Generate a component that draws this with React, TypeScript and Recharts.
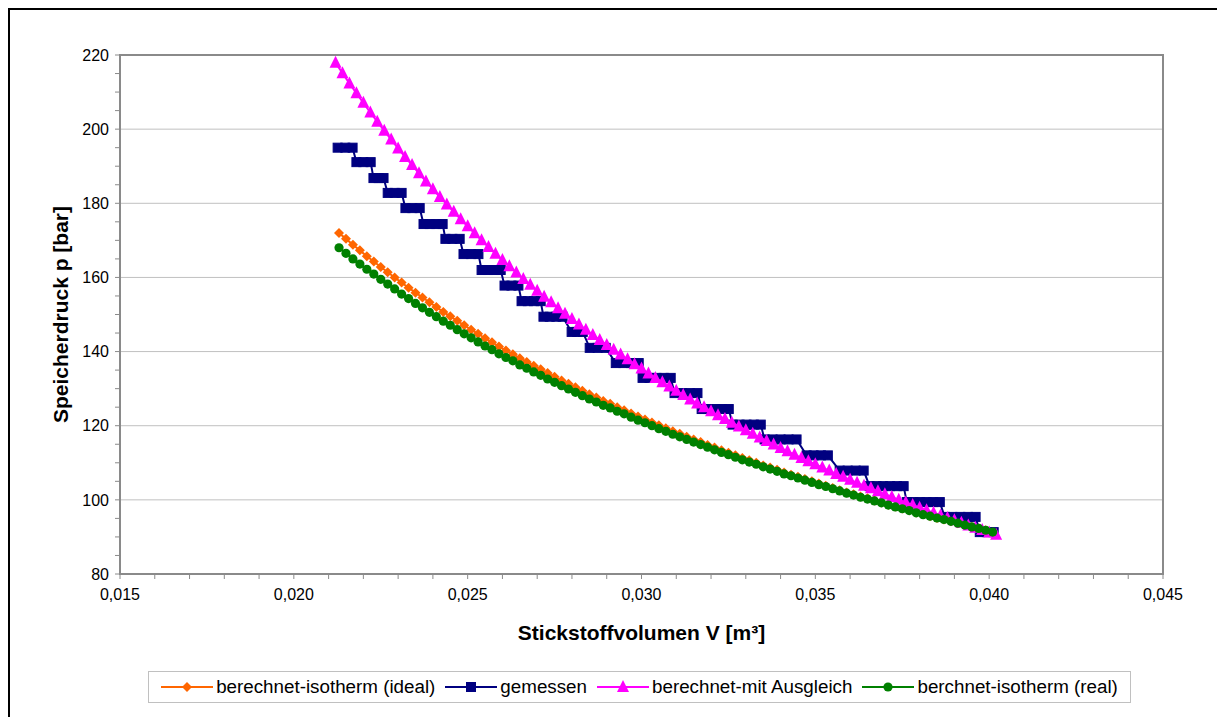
import React from 'react';
import { ScatterChart, Scatter, XAxis, YAxis, CartesianGrid, ReferenceArea } from 'recharts';

// Speicherdruck über Stickstoffvolumen – Messung vs. Berechnung
const volIso = [
  0.0213, 0.0215, 0.0217, 0.0219, 0.0221, 0.0223, 0.0225, 0.0227, 0.0229, 0.0231,
  0.0233, 0.0235, 0.0237, 0.0239, 0.0241, 0.0243, 0.0245, 0.0247, 0.0249, 0.0251,
  0.0253, 0.0255, 0.0257, 0.0259, 0.0261, 0.0263, 0.0265, 0.0267, 0.0269, 0.0271,
  0.0273, 0.0275, 0.0277, 0.0279, 0.0281, 0.0283, 0.0285, 0.0287, 0.0289, 0.0291,
  0.0293, 0.0295, 0.0297, 0.0299, 0.0301, 0.0303, 0.0305, 0.0307, 0.0309, 0.0311,
  0.0313, 0.0315, 0.0317, 0.0319, 0.0321, 0.0323, 0.0325, 0.0327, 0.0329, 0.0331,
  0.0333, 0.0335, 0.0337, 0.0339, 0.0341, 0.0343, 0.0345, 0.0347, 0.0349, 0.0351,
  0.0353, 0.0355, 0.0357, 0.0359, 0.0361, 0.0363, 0.0365, 0.0367, 0.0369, 0.0371,
  0.0373, 0.0375, 0.0377, 0.0379, 0.0381, 0.0383, 0.0385, 0.0387, 0.0389, 0.0391,
  0.0393, 0.0395, 0.0397, 0.0399, 0.0401,
];

const pIdeal = [
  172.0, 170.4, 168.8, 167.3, 165.7, 164.3, 162.8, 161.4, 160.0, 158.6,
  157.2, 155.9, 154.6, 153.3, 152.0, 150.7, 149.5, 148.3, 147.1, 145.9,
  144.8, 143.6, 142.5, 141.4, 140.3, 139.3, 138.2, 137.2, 136.2, 135.2,
  134.2, 133.2, 132.2, 131.3, 130.4, 129.4, 128.5, 127.6, 126.7, 125.9,
  125.0, 124.2, 123.3, 122.5, 121.7, 120.9, 120.1, 119.3, 118.5, 117.8,
  117.0, 116.3, 115.6, 114.8, 114.1, 113.4, 112.7, 112.0, 111.3, 110.7,
  110.0, 109.3, 108.7, 108.1, 107.4, 106.8, 106.2, 105.6, 105.0, 104.4,
  103.8, 103.2, 102.6, 102.0, 101.5, 100.9, 100.4, 99.8, 99.3, 98.7,
  98.2, 97.7, 97.2, 96.6, 96.1, 95.6, 95.1, 94.7, 94.2, 93.7,
  93.2, 92.7, 92.3, 91.8, 91.3,
];

const pReal = [
  168.0, 166.5, 165.0, 163.6, 162.2, 160.9, 159.5, 158.2, 156.9, 155.5,
  154.3, 153.0, 151.8, 150.6, 149.4, 148.2, 147.1, 145.9, 144.8, 143.7,
  142.6, 141.5, 140.5, 139.4, 138.4, 137.5, 136.4, 135.5, 134.5, 133.6,
  132.6, 131.7, 130.8, 129.9, 129.0, 128.1, 127.2, 126.4, 125.5, 124.8,
  123.9, 123.2, 122.3, 121.5, 120.8, 120.0, 119.2, 118.5, 117.7, 117.0,
  116.3, 115.6, 114.9, 114.2, 113.5, 112.8, 112.2, 111.5, 110.8, 110.2,
  109.6, 108.9, 108.3, 107.7, 107.0, 106.5, 105.9, 105.3, 104.7, 104.1,
  103.6, 103.0, 102.4, 101.8, 101.3, 100.7, 100.2, 99.7, 99.2, 98.6,
  98.1, 97.6, 97.1, 96.5, 96.0, 95.6, 95.1, 94.7, 94.2, 93.7,
  93.2, 92.7, 92.3, 91.8, 91.3,
];

const volAusgleich = [
  0.0212, 0.0214, 0.0216, 0.0218, 0.0220, 0.0222, 0.0224, 0.0226, 0.0228, 0.0230,
  0.0232, 0.0234, 0.0236, 0.0238, 0.0240, 0.0242, 0.0244, 0.0246, 0.0248, 0.0250,
  0.0252, 0.0254, 0.0256, 0.0258, 0.0260, 0.0262, 0.0264, 0.0266, 0.0268, 0.0270,
  0.0272, 0.0274, 0.0276, 0.0278, 0.0280, 0.0282, 0.0284, 0.0286, 0.0288, 0.0290,
  0.0292, 0.0294, 0.0296, 0.0298, 0.0300, 0.0302, 0.0304, 0.0306, 0.0308, 0.0310,
  0.0312, 0.0314, 0.0316, 0.0318, 0.0320, 0.0322, 0.0324, 0.0326, 0.0328, 0.0330,
  0.0332, 0.0334, 0.0336, 0.0338, 0.0340, 0.0342, 0.0344, 0.0346, 0.0348, 0.0350,
  0.0352, 0.0354, 0.0356, 0.0358, 0.0360, 0.0362, 0.0364, 0.0366, 0.0368, 0.0370,
  0.0372, 0.0374, 0.0376, 0.0378, 0.0380, 0.0382, 0.0384, 0.0386, 0.0388, 0.0390,
  0.0392, 0.0394, 0.0396, 0.0398, 0.0400, 0.0402,
];

const pAusgleich = [
  217.9, 215.1, 212.3, 209.7, 207.1, 204.5, 202.0, 199.6, 197.2, 194.8,
  192.5, 190.3, 188.1, 185.9, 183.8, 181.7, 179.7, 177.7, 175.7, 173.8,
  171.9, 170.0, 168.2, 166.4, 164.7, 163.0, 161.3, 159.6, 158.0, 156.4,
  154.8, 153.3, 151.7, 150.2, 148.8, 147.3, 145.9, 144.5, 143.1, 141.8,
  140.5, 139.2, 137.9, 136.6, 135.4, 134.1, 132.9, 131.7, 130.6, 129.4,
  128.3, 127.1, 126.0, 125.0, 123.9, 122.8, 121.8, 120.8, 119.8, 118.8,
  117.8, 116.8, 115.9, 114.9, 114.0, 113.1, 112.2, 111.3, 110.4, 109.6,
  108.7, 107.9, 107.0, 106.2, 105.4, 104.6, 103.8, 103.1, 102.3, 101.5,
  100.8, 100.0, 99.3, 98.6, 97.9, 97.2, 96.5, 95.8, 95.1, 94.5,
  93.8, 93.1, 92.5, 91.9, 91.2, 90.6,
];

// gemessen: Druckstufen und die Volumina, die auf jeder Stufe liegen
const stufenDruck = [
  195.0, 191.1, 186.8, 182.8, 178.7, 174.4, 170.4, 166.3, 162.0, 157.8,
  153.6, 149.4, 145.3, 141.0, 136.9, 132.9, 128.8, 124.5, 120.3, 116.3,
  112.0, 107.9, 103.7, 99.4, 95.4, 91.3,
];

const stufenVolumen = [
  [0.02126, 0.02148, 0.02169],
  [0.0218, 0.022, 0.02221],
  [0.02229, 0.02244, 0.02258],
  [0.0227, 0.0229, 0.0231],
  [0.02321, 0.02341, 0.02362],
  [0.02373, 0.02391, 0.0241, 0.02428],
  [0.02436, 0.02456, 0.02477],
  [0.02488, 0.0251, 0.02531],
  [0.0254, 0.02558, 0.02576, 0.02595],
  [0.02606, 0.02626, 0.02646],
  [0.02655, 0.02673, 0.02691, 0.0271],
  [0.02718, 0.02736, 0.02755, 0.02773],
  [0.02799, 0.02815, 0.02831],
  [0.02851, 0.02874, 0.02897],
  [0.02926, 0.02948, 0.0297, 0.02992],
  [0.03003, 0.03023, 0.03043, 0.03064, 0.03084],
  [0.03095, 0.03117, 0.03139, 0.03161],
  [0.03173, 0.03192, 0.03212, 0.03231, 0.03251],
  [0.03262, 0.03282, 0.03302, 0.03323, 0.03343],
  [0.03354, 0.03377, 0.034, 0.03423, 0.03446],
  [0.03475, 0.03495, 0.03516, 0.03536],
  [0.0357, 0.03593, 0.03616, 0.03639],
  [0.03656, 0.03676, 0.03695, 0.03715, 0.03735, 0.03754],
  [0.03763, 0.03782, 0.03801, 0.0382, 0.03839, 0.03858],
  [0.03872, 0.03894, 0.03917, 0.03939, 0.03961],
  [0.03973, 0.03993, 0.04013],
];

const xTicks = [
  0.015, 0.016, 0.017, 0.018, 0.019, 0.02, 0.021, 0.022, 0.023, 0.024,
  0.025, 0.026, 0.027, 0.028, 0.029, 0.03, 0.031, 0.032, 0.033, 0.034,
  0.035, 0.036, 0.037, 0.038, 0.039, 0.04, 0.041, 0.042, 0.043, 0.044, 0.045,
];
const xLabelled = [0.015, 0.02, 0.025, 0.03, 0.035, 0.04, 0.045];

const yTicks = [
  80, 85, 90, 95, 100, 105, 110, 115, 120, 125, 130, 135, 140, 145, 150,
  155, 160, 165, 170, 175, 180, 185, 190, 195, 200, 205, 210, 215, 220,
];
const yLabelled = [80, 100, 120, 140, 160, 180, 200, 220];
const yGrid = [100, 120, 140, 160, 180, 200];

const seriesNames = [
  'berechnet-isotherm (ideal)',
  'gemessen',
  'berechnet-mit Ausgleich',
  'berchnet-isotherm (real)',
];

const FONT = '"Liberation Sans", Arial, sans-serif';
const ORANGE = '#FF6600';
const NAVY = '#000080';
const MAGENTA = '#FF00FF';
const GREEN = '#008000';
const AXIS_GRAY = '#8a8a8a';

const idealData = volIso.map((v, i) => ({ v, p: pIdeal[i] }));
const realData = volIso.map((v, i) => ({ v, p: pReal[i] }));
const ausgleichData = volAusgleich.map((v, i) => ({ v, p: pAusgleich[i] }));
const gemessenData = stufenVolumen.flatMap((vols, i) => vols.map((v) => ({ v, p: stufenDruck[i] })));

const isLabelled = (list: number[], value: number) => list.some((t) => Math.abs(t - value) < 1e-9);

// marker shapes
const Diamond = ({ cx, cy, color }: any) => (
  <polygon points={`${cx},${cy - 5} ${cx + 5},${cy} ${cx},${cy + 5} ${cx - 5},${cy}`} fill={color} />
);
const Square = ({ cx, cy, color }: any) => (
  <rect x={cx - 4.5} y={cy - 4.5} width={9} height={9} fill={color} stroke={color} strokeWidth={1} />
);
const Triangle = ({ cx, cy, color }: any) => (
  <polygon points={`${cx},${cy - 7} ${cx + 6},${cy + 5} ${cx - 6},${cy + 5}`} fill={color} />
);
const Dot = ({ cx, cy, color }: any) => <circle cx={cx} cy={cy} r={4.6} fill={color} />;

const legendItems = [
  { name: seriesNames[0], color: ORANGE, Marker: Diamond },
  { name: seriesNames[1], color: NAVY, Marker: Square },
  { name: seriesNames[2], color: MAGENTA, Marker: Triangle },
  { name: seriesNames[3], color: GREEN, Marker: Dot },
];

const XTitle = ({ viewBox }: any) => (
  <text
    x={viewBox.x + viewBox.width / 2}
    y={viewBox.y + 66}
    textAnchor="middle"
    fontFamily={FONT}
    fontWeight="bold"
    fontSize={21}
    fill="#000"
  >
    Stickstoffvolumen V [m³]
  </text>
);

const YTitle = ({ viewBox }: any) => {
  const x = viewBox.x + 28;
  const y = viewBox.y + viewBox.height / 2;
  return (
    <text
      x={x}
      y={y}
      transform={`rotate(-90, ${x}, ${y})`}
      textAnchor="middle"
      fontFamily={FONT}
      fontWeight="bold"
      fontSize={21}
      fill="#000"
    >
      Speicherdruck p [bar]
    </text>
  );
};

const tickStyle = { fontSize: 16, fill: '#000', fontFamily: FONT };

export default function App() {
  return (
    <div style={{ position: 'absolute', left: 0, top: 0, width: 1217, height: 717, overflow: 'hidden', background: '#fff' }}>
      <div
        style={{
          position: 'absolute',
          left: 8,
          top: 8,
          width: 1240,
          height: 740,
          border: '2px solid #000',
          boxSizing: 'border-box',
        }}
      />
      <div style={{ position: 'absolute', left: 8, top: 8 }}>
        <ScatterChart width={1209} height={709} margin={{ top: 47, right: 54, bottom: 103, left: 32 }}>
          <CartesianGrid vertical={false} horizontalValues={yGrid} stroke="#c0c0c0" strokeWidth={1} />
          <ReferenceArea x1={0.015} x2={0.045} y1={80} y2={220} fill="none" stroke={AXIS_GRAY} strokeWidth={2} />
          <XAxis
            type="number"
            dataKey="v"
            domain={[0.015, 0.045]}
            ticks={xTicks}
            interval={0}
            tickFormatter={(v: number) => (isLabelled(xLabelled, v) ? v.toFixed(3).replace('.', ',') : '')}
            tick={tickStyle}
            tickSize={5}
            tickMargin={10}
            height={40}
            axisLine={{ stroke: AXIS_GRAY, strokeWidth: 2 }}
            tickLine={{ stroke: AXIS_GRAY }}
            label={<XTitle />}
          />
          <YAxis
            type="number"
            dataKey="p"
            domain={[80, 220]}
            ticks={yTicks}
            interval={0}
            tickFormatter={(v: number) => (isLabelled(yLabelled, v) ? String(v) : '')}
            tick={tickStyle}
            tickSize={5}
            tickMargin={6}
            width={80}
            axisLine={{ stroke: AXIS_GRAY, strokeWidth: 2 }}
            tickLine={{ stroke: AXIS_GRAY }}
            label={<YTitle />}
          />
          <Scatter
            name={seriesNames[0]}
            data={idealData}
            fill={ORANGE}
            line={{ stroke: ORANGE, strokeWidth: 2 }}
            lineType="joint"
            shape={(p: any) => <Diamond {...p} color={ORANGE} />}
            isAnimationActive={false}
          />
          <Scatter
            name={seriesNames[1]}
            data={gemessenData}
            fill={NAVY}
            line={{ stroke: NAVY, strokeWidth: 2 }}
            lineType="joint"
            shape={(p: any) => <Square {...p} color={NAVY} />}
            isAnimationActive={false}
          />
          <Scatter
            name={seriesNames[2]}
            data={ausgleichData}
            fill={MAGENTA}
            line={{ stroke: MAGENTA, strokeWidth: 2 }}
            lineType="joint"
            shape={(p: any) => <Triangle {...p} color={MAGENTA} />}
            isAnimationActive={false}
          />
          <Scatter
            name={seriesNames[3]}
            data={realData}
            fill={GREEN}
            line={{ stroke: GREEN, strokeWidth: 2 }}
            lineType="joint"
            shape={(p: any) => <Dot {...p} color={GREEN} />}
            isAnimationActive={false}
          />
        </ScatterChart>
      </div>
      <div
        style={{
          position: 'absolute',
          left: 148,
          top: 671,
          width: 983,
          height: 32,
          boxSizing: 'border-box',
          border: '1px solid #c0c0c0',
          display: 'flex',
          alignItems: 'center',
          justifyContent: 'center',
          fontFamily: FONT,
          fontSize: 18.8,
          color: '#000',
          whiteSpace: 'nowrap',
        }}
      >
        {legendItems.map(({ name, color, Marker }, i) => (
          <div key={name} style={{ display: 'flex', alignItems: 'center', marginRight: i < legendItems.length - 1 ? 10 : 0 }}>
            <svg width={52} height={14} style={{ marginRight: 3 }}>
              <line x1={0} y1={7} x2={52} y2={7} stroke={color} strokeWidth={2} />
              <Marker cx={26} cy={7} color={color} />
            </svg>
            <span>{name}</span>
          </div>
        ))}
      </div>
    </div>
  );
}
